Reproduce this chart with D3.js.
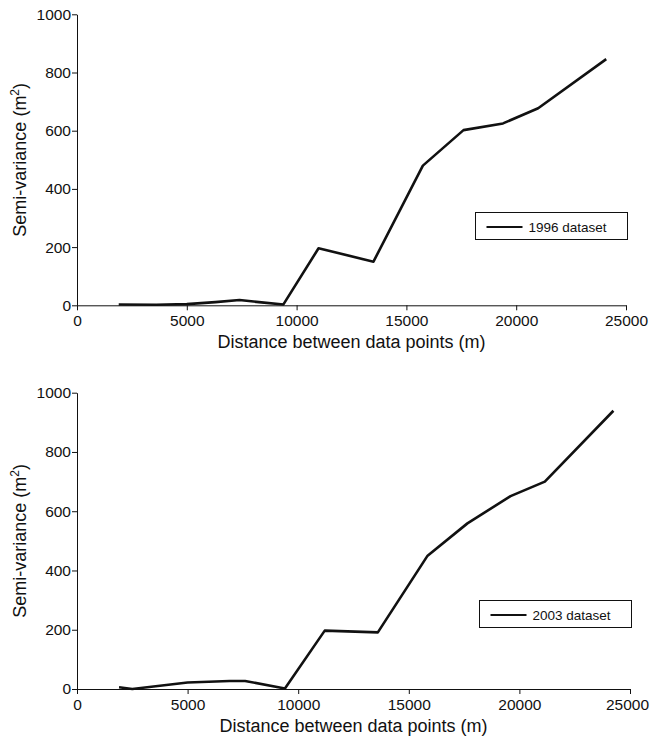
<!DOCTYPE html>
<html>
<head>
<meta charset="utf-8">
<script src="https://cdn.jsdelivr.net/npm/d3@7"></script>
<style>
  body { margin: 0; background: #fff; }
  text { font-family: "Liberation Sans", Arial, sans-serif; fill: #111; }
</style>
</head>
<body>
<script>
// Semi-variance data
var distance1996 = [1900, 3600, 5000, 6300, 7400, 8400, 9400, 11000, 13500, 15750, 17600, 19400, 21000, 24100];
var semivar1996  = [3, 2, 4, 11, 18, 10, 3, 196, 150, 480, 602, 625, 677, 846];

var distance2003 = [1900, 2500, 5000, 6900, 7600, 9400, 11200, 13600, 15850, 17650, 19600, 21150, 24250];
var semivar2003  = [6, 0, 22, 27, 27, 2, 197, 191, 450, 559, 651, 700, 939];

var xTicks = [0, 5000, 10000, 15000, 20000, 25000];
var yTicks = [0, 200, 400, 600, 800, 1000];
var seriesNames = ["1996 dataset", "2003 dataset"];

var svg = d3.select("body")
  .append("svg")
    .attr("width", 650)
    .attr("height", 740);

// one panel = axes + line + legend box
function drawPanel(xs, ys, name, box) {
  "use strict";
  var data = xs.map(function(d, i) { return {x: d, y: ys[i]}; });

  var x = d3.scaleLinear().domain([0, 25000]).range([box.left, box.right]);
  var y = d3.scaleLinear().domain([0, 1000]).range([box.bottom, box.top]);

  var g = svg.append("g");

  // X axis
  g.append("g")
    .attr("transform", "translate(0," + box.bottom + ")")
    .call(d3.axisBottom(x).tickValues(xTicks).tickFormat(d3.format("d"))
      .tickSize(5).tickSizeOuter(0).tickPadding(5))
    .call(function(a) {
      a.selectAll("text").style("font-size", "15.5px");
      a.selectAll("line, path").attr("stroke", "#111");
      // keep the last label inside the page
      a.selectAll("text").filter(function(d) { return d === 25000; })
        .attr("dx", box.right > 627 ? -3 : 0);
    });

  // Y axis
  g.append("g")
    .attr("transform", "translate(" + box.left + ",0)")
    .call(d3.axisLeft(y).tickValues(yTicks).tickFormat(d3.format("d"))
      .tickSize(5).tickSizeOuter(0).tickPadding(1))
    .call(function(a) {
      a.selectAll("text").style("font-size", "15.5px");
      a.selectAll("line, path").attr("stroke", "#111");
    });

  // axis titles
  g.append("text")
    .attr("x", (box.left + box.right) / 2)
    .attr("y", box.bottom + 43)
    .style("text-anchor", "middle")
    .style("font-size", "18px")
    .text("Distance between data points (m)");

  var yl = g.append("text")
    .attr("transform", "translate(26," + (box.top + box.bottom) / 2 + ") rotate(-90)")
    .style("text-anchor", "middle")
    .style("font-size", "18px");
  yl.append("tspan").text("Semi-variance (m");
  yl.append("tspan").attr("dy", -7).style("font-size", "12px").text("2");
  yl.append("tspan").attr("dy", 7).text(")");

  // the data line
  var line = d3.line()
    .x(function(d) { return x(d.x); })
    .y(function(d) { return y(d.y); });

  g.append("path")
    .datum(data)
    .attr("d", line)
    .attr("fill", "none")
    .attr("stroke", "#111")
    .attr("stroke-width", 2.6)
    .attr("stroke-linejoin", "round");

  // legend
  var lg = g.append("g").attr("transform", "translate(" + box.legX + "," + box.legY + ")");
  lg.append("rect")
    .attr("x", 0).attr("y", 0)
    .attr("width", 152).attr("height", 27)
    .attr("fill", "#fff")
    .attr("stroke", "#111")
    .attr("stroke-width", 1);
  lg.append("line")
    .attr("x1", 11).attr("x2", 47)
    .attr("y1", 14.5).attr("y2", 14.5)
    .attr("stroke", "#111")
    .attr("stroke-width", 2);
  lg.append("text")
    .attr("x", 53).attr("y", 19.5)
    .style("font-size", "13.5px")
    .text(name);
}

drawPanel(distance1996, semivar1996, seriesNames[0],
  {left: 77, right: 626, top: 14.3, bottom: 305.3, legX: 475.5, legY: 212.5});
drawPanel(distance2003, semivar2003, seriesNames[1],
  {left: 77, right: 630, top: 392.7, bottom: 689, legX: 479.5, legY: 600.5});
</script>
</body>
</html>
